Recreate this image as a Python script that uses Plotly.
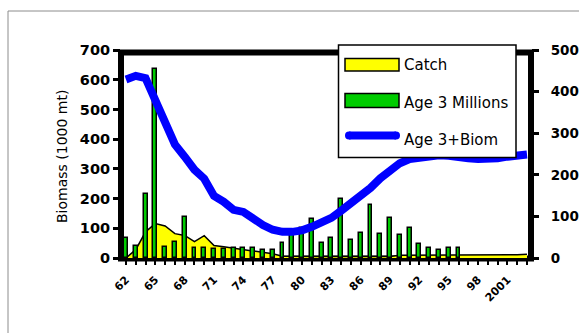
import plotly.graph_objects as go

# ---------------- data ----------------
years = list(range(1962, 2004))
tick_years = [1962, 1965, 1968, 1971, 1974, 1977, 1980, 1983, 1986, 1989, 1992, 1995, 1998, 2001]
tick_labels = ["62", "65", "68", "71", "74", "77", "80", "83", "86", "89", "92", "95", "98", "2001"]

catch = [0, 28, 88, 116, 108, 82, 76, 55, 75, 42, 38, 33, 28, 24, 20, 14, 6,
         5, 5, 5, 5, 5, 5, 5, 5, 5, 5, 5,
         9, 9, 9, 9, 9, 9, 9,
         11, 11, 11, 11, 11, 11, 13]

age3_millions = [47, 29, 153, 454, 27, 39, 98, 25, 25, 21, 21, 24, 23, 24, 19, 20, 37,
                 63, 72, 93, 35, 48, 142, 44, 59, 127, 58, 95, 55, 73, 34, 24, 20, 24, 24,
                 None, None, None, None, None, None, None]

age3_biom = [601, 613, 605, 534, 453, 382, 341, 297, 267, 209, 189, 162, 155, 132, 111, 95,
             88, 88, 93, 105, 120, 135, 159, 182, 206, 236, 268, 297, 319, 333, 339, 344,
             346, 344, 343, 336, 333, 333, 336, 341, 344, 348]

left_ticks = [0, 100, 200, 300, 400, 500, 600, 700]
right_ticks = [0, 100, 200, 300, 400, 500]

legend_names = ["Catch", "Age 3 Millions", "Age 3+Biom"]

# ---------------- layout geometry (pixels) ----------------
W, H = 579, 333
L, R, T, B = 121, 531, 50, 258


def px(x):
    return (x - L) / (R - L)


def py(y):
    return (B - y) / (B - T)


ticktext = [tick_labels[tick_years.index(y)] if y in tick_years else "" for y in years]

fig = go.Figure()
fig.add_trace(go.Scatter(
    x=years, y=catch, mode="lines", fill="tozeroy", fillcolor="#FFFF00",
    line=dict(color="black", width=1.5), yaxis="y", name=legend_names[0], showlegend=False))
fig.add_trace(go.Bar(
    x=years, y=age3_millions, width=0.4,
    marker=dict(color="#00CC00", line=dict(color="black", width=1.5)),
    yaxis="y2", name=legend_names[1], showlegend=False))
fig.add_trace(go.Scatter(
    x=years, y=age3_biom, mode="lines", line=dict(color="#0000FF", width=8),
    yaxis="y3", name=legend_names[2], showlegend=False))

tickfont = dict(family="DejaVu Sans", size=14.5, color="black", weight="bold")
tickfont_r = dict(family="DejaVu Sans", size=13.5, color="black", weight="bold")

fig.update_layout(
    width=W, height=H,
    margin=dict(l=L, r=W - R, t=T, b=H - B, pad=0, autoexpand=False),
    paper_bgcolor="white", plot_bgcolor="rgba(0,0,0,0)",
    showlegend=False,
    bargap=0,
    xaxis=dict(range=[1961.49, 2003.41], tickmode="array", tickvals=years, ticktext=ticktext,
               tickangle=-45, ticks="outside", ticklen=6, tickwidth=2, tickcolor="black",
               showline=False, showgrid=False, zeroline=False, automargin=False,
               tickfont=dict(family="DejaVu Sans", size=11, color="black", weight="bold"),
               ticklabelstandoff=4),
    yaxis=dict(range=[0, 700], tickmode="array", tickvals=left_ticks,
               ticks="outside", ticklen=7, tickwidth=3, tickcolor="black", automargin=False,
               showline=False, showgrid=False, zeroline=False, tickfont=tickfont),
    yaxis2=dict(range=[0, 500], tickmode="array", tickvals=right_ticks, overlaying="y",
                side="right", ticks="outside", ticklen=7, tickwidth=3, tickcolor="black",
                showline=False, showgrid=False, zeroline=False, tickfont=tickfont_r,
                automargin=False, ticklabelstandoff=9),
    yaxis3=dict(range=[0, 700], overlaying="y", visible=False, automargin=False),
)

shapes = []
# outer thin frame
shapes.append(dict(type="line", xref="paper", yref="paper", x0=px(8), x1=px(W + 5), y0=py(11), y1=py(11),
                   line=dict(color="#8c8c8c", width=1)))
shapes.append(dict(type="line", xref="paper", yref="paper", x0=px(8), x1=px(8), y0=py(11), y1=py(H + 5),
                   line=dict(color="#8c8c8c", width=1)))
# thick plot frame
shapes.append(dict(type="rect", xref="paper", yref="paper", x0=px(121), x1=px(531), y0=py(258.5), y1=py(52.5),
                   line=dict(color="black", width=6), layer="below"))
# legend box
shapes.append(dict(type="rect", xref="paper", yref="paper", x0=px(338.5), x1=px(516), y0=py(157.5), y1=py(45),
                   line=dict(color="black", width=1.5), fillcolor="white", layer="above"))
shapes.append(dict(type="rect", xref="paper", yref="paper", x0=px(345), x1=px(399), y0=py(71), y1=py(58.5),
                   line=dict(color="black", width=1.5), fillcolor="#FFFF00", layer="above"))
shapes.append(dict(type="rect", xref="paper", yref="paper", x0=px(345), x1=px(399), y0=py(107.5), y1=py(93.5),
                   line=dict(color="black", width=1.5), fillcolor="#00CC00", layer="above"))
shapes.append(dict(type="line", xref="paper", yref="paper", x0=px(349), x1=px(396), y0=py(135.5), y1=py(135.5),
                   line=dict(color="#0000FF", width=8), layer="above"))
for cx in (349, 396):
    shapes.append(dict(type="circle", xref="paper", yref="paper", x0=px(cx - 4), x1=px(cx + 4),
                       y0=py(135.5 + 4), y1=py(135.5 - 4), line=dict(width=0), fillcolor="#0000FF",
                       layer="above"))
fig.update_layout(shapes=shapes)

legfont = dict(family="DejaVu Sans", size=15, color="black")
annotations = [
    dict(text=legend_names[0], x=px(402), y=py(65), xref="paper", yref="paper", xanchor="left",
         yanchor="middle", showarrow=False, font=legfont),
    dict(text=legend_names[1], x=px(402), y=py(103), xref="paper", yref="paper", xanchor="left",
         yanchor="middle", showarrow=False, font=legfont),
    dict(text=legend_names[2], x=px(402), y=py(140), xref="paper", yref="paper", xanchor="left",
         yanchor="middle", showarrow=False, font=legfont),
    dict(text="Biomass (1000 mt)", x=px(62), y=py(157), xref="paper", yref="paper", xanchor="center",
         yanchor="middle", textangle=-90, showarrow=False,
         font=dict(family="DejaVu Sans", size=14, color="black")),
]
fig.update_layout(annotations=annotations)

fig.write_html("out.html", config={"displayModeBar": False},
               post_script="document.body.style.margin='0px';")
